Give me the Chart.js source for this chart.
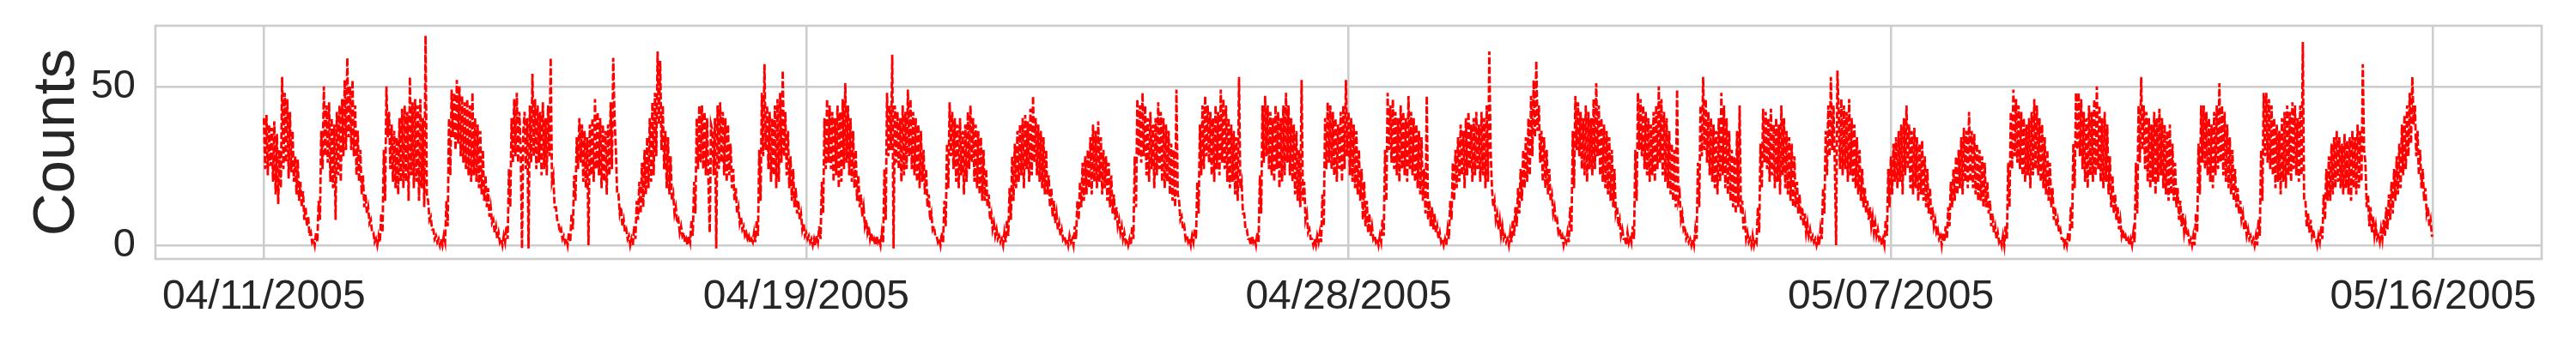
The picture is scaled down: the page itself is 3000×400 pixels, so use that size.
<!DOCTYPE html>
<html>
<head>
<meta charset="utf-8">
<title>Counts</title>
<script src="https://cdn.jsdelivr.net/npm/chart.js@4.4.1/dist/chart.umd.min.js"></script>
<style>
    body { margin: 0; background: #ffffff; }
    #wrap { width: 3000px; height: 400px; }
</style>
</head>
<body>
<div id="wrap"><canvas id="countChart" width="3000" height="400"></canvas></div>
<script>

// counts read twice per hour (top and bottom of the band), one row per day
const counts = [
    40,24, 41,22, 38,25, 37,20, 39,16, 35,13, 30,18, 53,24, 48,26, 46,21, 42,23, 36,20, 28,16, 27,14, 20,12, 17,8, 12,6, 9,3, 4,1, 2,0, 4,1, 14,8, 36,24, 50,28,
    44,26, 45,20, 40,18, 38,8, 42,22, 44,20, 46,28, 52,30, 59,34, 50,30, 52,28, 44,22, 36,20, 30,16, 22,12, 16,10, 12,7, 8,4, 4,1, 2,0, 3,1, 10,4, 30,14, 50,34,
    42,24, 38,20, 36,18, 34,16, 40,20, 43,18, 44,20, 42,14, 53,22, 45,18, 46,20, 44,14, 46,18, 40,12, 66,16, 14,8, 9,5, 5,2, 3,1, 2,0, 2,0, 3,1, 14,6, 40,22,
    49,34, 48,30, 52,32, 50,28, 47,26, 45,24, 46,22, 44,20, 48,22, 40,20, 38,18, 36,16, 30,14, 22,12, 18,9, 12,7, 8,4, 6,2, 4,1, 2,0, 3,1, 6,2, 24,12, 40,26,
    46,28, 48,26, 42,30, -1,36, 42,24, 40,-1, 44,26, 54,28, 46,24, 44,26, 42,22, 45,24, 40,22, 44,28, 59,20, 22,12, 12,8, 7,4, 5,2, 3,1, 2,0, 4,1, 10,5, 22,14,
    34,24, 40,26, 38,20, 36,18, 34,0, 38,22, 40,20, 46,24, 42,22, 40,18, 38,20, 36,16, 38,22, 45,24, 59,40, 30,16, 16,10, 12,6, 8,4, 5,2, 3,0, 2,0, 6,2, 14,8,
    20,10, 26,12, 30,16, 34,18, 40,20, 45,22, 48,28, 61,38, 58,30, 44,24, 36,18, 34,16, 28,14, 16,10, 12,7, 8,4, 6,3, 4,1, 2,0, 3,1, 8,3, 20,10, 40,24, 44,26,
    44,24, 42,22, 40,20, 4,38, 36,22, 40,-1, 44,24, 45,26, 42,22, 40,20, 38,22, 32,18, 24,14, 18,10, 12,7, 9,5, 6,3, 4,2, 3,1, 2,1, 4,1, 8,3, 30,14, 48,28,
    57,30, 44,24, 42,20, 40,22, 44,18, 46,20, 48,26, 55,28, 42,22, 36,18, 28,14, 24,12, 18,10, 14,8, 10,5, 7,3, 4,2, 3,1, 2,0, 2,0, 3,1, 6,2, 20,10, 40,24,
    46,26, 44,24, 42,20, 40,22, 44,18, 42,20, 46,24, 51,26, 44,22, 40,20, 36,18, 30,14, 22,12, 16,9, 12,6, 8,4, 6,2, 4,1, 2,0, 3,1, 2,0, 4,1, 24,8, 48,28,
    44,30, 60,-1, 44,26, 42,24, 40,20, 44,22, 42,24, 49,28, 46,24, 42,22, 40,20, 38,18, 36,20, 30,16, 24,12, 16,8, 10,5, 6,3, 3,1, 2,0, 4,1, 14,6, 32,18, 45,28,
    42,24, 40,20, 38,18, 40,22, 36,16, 38,20, 42,24, 44,26, 40,20, 38,18, 36,16, 34,14, 30,14, 24,12, 16,8, 10,5, 7,3, 5,2, 3,1, 2,0, 4,1, 8,3, 18,8, 28,14,
    32,18, 36,20, 38,22, 40,18, 41,24, 39,20, 43,22, 47,26, 40,22, 38,20, 36,18, 34,16, 30,16, 22,12, 18,9, 14,7, 10,5, 7,3, 5,2, 3,1, 2,0, 3,1, 2,0, 6,2,
    14,8, 20,12, 26,14, 28,16, 30,18, 34,16, 38,20, 36,18, 39,20, 34,16, 30,18, 28,14, 26,12, 22,10, 16,8, 12,6, 8,4, 6,2, 4,1, 2,0, 2,0, 6,2, 28,12, 46,28,
    44,26, 48,28, 44,22, 40,20, 42,24, 38,18, 40,22, 45,24, 42,20, 40,18, 38,20, 36,16, 32,14, 30,12, 49,16, 14,8, 9,5, 6,2, 3,1, 2,0, 3,1, 5,2, 20,10, 38,22,
    44,24, 47,28, 44,26, 42,22, 40,20, 44,24, 42,22, 49,26, 46,24, 44,20, 40,18, 38,20, 36,16, 34,14, 53,18, 20,10, 10,5, 5,2, 2,0, 3,1, 2,0, 4,1, 22,10, 44,26,
    47,28, 44,24, 42,22, 40,20, 44,24, 42,18, 40,20, 44,22, 48,26, 44,22, 40,20, 38,16, 36,14, 30,12, 52,14, 20,8, 10,4, 5,2, 2,0, 2,0, 3,1, 4,1, 16,6, 40,24,
    45,26, 44,24, 42,22, 40,20, 38,24, 42,20, 44,24, 52,28, 42,22, 40,20, 38,18, 36,16, 30,14, 24,8, 20,6, 14,4, 10,3, 6,2, 3,1, 2,0, 3,1, 8,3, 30,14, 48,30,
    44,26, 46,24, 42,22, 40,20, 44,24, 42,22, 40,20, 47,24, 42,22, 40,20, 38,18, 36,16, 34,14, 24,10, 47,8, 14,6, 12,5, 10,4, 6,2, 4,1, 2,0, 2,0, 5,2, 14,8,
    26,14, 30,18, 34,20, 38,22, 36,18, 40,22, 42,24, 38,20, 40,22, 42,24, 38,20, 42,22, 40,18, 44,20, 61,30, 18,12, 14,8, 10,5, 8,3, 6,2, 3,1, 2,0, 4,1, 8,3,
    12,6, 18,10, 24,14, 30,18, 34,20, 40,22, 47,28, 52,34, 58,36, 44,26, 36,20, 34,18, 30,16, 24,14, 16,10, 12,7, 8,4, 5,2, 3,0, 2,1, 4,1, 12,4, 36,18, 47,30,
    45,28, 42,24, 40,22, 44,20, 42,24, 40,22, 46,24, 51,28, 44,22, 40,20, 38,18, 36,16, 34,14, 30,12, 24,10, 12,6, 8,3, 5,2, 2,0, 4,1, 3,1, 6,2, 30,14, 48,30,
    46,28, 44,24, 42,22, 40,20, 38,22, 42,20, 44,24, 50,26, 46,22, 42,20, 40,18, 36,16, 32,14, 30,12, 49,14, 16,8, 10,5, 6,2, 3,1, 2,0, 2,0, 5,2, 26,12, 44,28,
    53,30, 46,26, 42,22, 40,20, 38,18, 36,16, 40,20, 48,22, 44,18, 40,16, 36,14, 30,12, 28,10, 36,12, 44,10, 14,5, 8,2, 4,1, 2,0, 3,0, 2,1, 12,4, 32,18, 43,26,
    42,24, 40,20, 43,22, 38,18, 40,20, 38,16, 44,22, 40,18, 36,16, 34,14, 32,12, 28,12, 20,10, 16,8, 12,6, 10,4, 7,3, 5,2, 3,1, 2,0, 2,0, 5,2, 18,10, 36,22,
    44,28, 53,30, 44,26, 0,55, 42,24, 46,22, 44,24, 42,20, 46,22, 40,20, 38,18, 34,16, 30,14, 24,12, 18,10, 14,8, 12,6, 9,4, 7,3, 5,2, 3,0, 2,0, 8,3, 24,12,
    28,16, 32,20, 34,18, 36,20, 38,16, 40,22, 44,24, 38,18, 36,16, 37,18, 34,14, 32,16, 33,14, 28,12, 24,10, 18,8, 12,6, 8,4, 5,2, 3,0, 4,1, 6,2, 12,6, 20,12,
    24,14, 28,16, 30,18, 34,16, 37,20, 36,18, 42,20, 36,18, 35,16, 32,14, 30,14, 28,12, 26,12, 20,10, 14,6, 10,4, 6,2, 4,1, 2,0, 3,0, 6,2, 26,12, 42,24, 49,28,
    46,26, 44,24, 42,22, 40,20, 38,22, 40,18, 42,22, 46,24, 44,22, 40,20, 38,18, 34,16, 30,14, 26,12, 18,8, 12,6, 8,4, 5,2, 2,0, 2,0, 4,1, 12,5, 32,18, 48,30,
    48,28, 46,24, 42,20, 40,18, 44,22, 42,20, 46,22, 50,24, 44,20, 40,18, 42,20, 38,16, 28,12, 22,10, 16,8, 12,5, 8,3, 5,2, 3,1, 2,0, 2,0, 4,1, 26,10, 44,26,
    53,30, 44,24, 42,20, 40,18, 38,20, 42,16, 40,20, 43,22, 40,18, 38,16, 36,14, 38,16, 32,14, 26,12, 18,8, 14,6, 10,4, 7,3, 4,1, 2,0, 3,0, 10,4, 32,16, 44,26,
    44,24, 42,22, 40,20, 38,18, 42,22, 44,24, 51,26, 44,22, 42,20, 38,18, 34,16, 30,14, 24,12, 18,10, 14,8, 10,5, 8,3, 5,2, 3,1, 2,0, 3,0, 8,3, 30,14, 48,28,
    48,26, 46,24, 44,22, 40,18, 38,20, 36,16, 40,20, 42,18, 44,22, 42,20, 45,24, 44,22, 40,20, 44,22, 64,14, 14,6, 10,4, 8,3, 5,2, 2,0, 3,1, 6,2, 16,8, 24,14,
    28,14, 32,16, 34,18, 36,20, 34,18, 32,16, 35,18, 33,16, 34,14, 36,18, 34,16, 38,18, 36,20, 57,30, 26,12, 16,6, 12,4, 9,3, 6,2, 3,1, 5,2, 8,3, 12,5, 16,8,
    20,10, 24,14, 28,16, 32,18, 38,22, 41,24, 44,28, 48,32, 53,38, 44,28, 36,22, 30,18, 24,14, 18,10, 12,6, 8,3, 3
];

// x ticks (hours since first sample) and their labels
const tickHours = [0, 208, 416, 624, 832];
const tickLabels = ["04/11/2005", "04/19/2005", "04/28/2005", "05/07/2005", "05/16/2005"];
const yTicks = [0, 50];

// two readings per hour
const points = counts.map((v, i) => ({ x: i / 2, y: v }));

const gridColor = "#cccccc";
const textColor = "#262626";
const fontFamily = "'Liberation Sans', Arial, sans-serif";

// grey frame round the plot area
const frame = {
    id: "frame",
    afterDraw(chart) {
        const a = chart.chartArea;
        const ctx = chart.ctx;
        ctx.save();
        ctx.strokeStyle = gridColor;
        ctx.lineWidth = 2.6;
        ctx.strokeRect(a.left, a.top, a.right - a.left, a.bottom - a.top);
        ctx.restore();
    }
};

new Chart(document.getElementById("countChart"), {
    type: "line",
    data: {
        datasets: [{
            label: "Counts",
            data: points,
            borderColor: "#ff0000",
            borderWidth: 2.8,
            borderDash: [8, 3],
            pointRadius: 0,
            tension: 0,
            fill: false
        }]
    },
    options: {
        responsive: false,
        animation: false,
        devicePixelRatio: 1,
        layout: {
            padding: { left: 0, top: 30, right: 40, bottom: 0 }
        },
        plugins: {
            legend: { display: false },
            tooltip: { enabled: false }
        },
        scales: {
            x: {
                type: "linear",
                min: -41.6,
                max: 873.6,
                afterBuildTicks: scale => {
                    scale.ticks = tickHours.map(v => ({ value: v }));
                },
                afterFit: scale => { scale.height = 98; },
                border: { display: false },
                grid: { color: gridColor, lineWidth: 2.5, drawTicks: false },
                ticks: {
                    autoSkip: false,
                    maxRotation: 0,
                    padding: 16,
                    color: textColor,
                    font: { family: fontFamily, size: 48 },
                    callback: (value, index) => tickLabels[index]
                }
            },
            y: {
                min: -4.3,
                max: 69.1,
                afterBuildTicks: scale => {
                    scale.ticks = yTicks.map(v => ({ value: v }));
                },
                afterFit: scale => { scale.width = 181; },
                border: { display: false },
                // invisible tick marks keep the labels off the frame
                grid: { color: gridColor, lineWidth: 2.5, drawTicks: true, tickLength: 23, tickColor: "rgba(0,0,0,0)" },
                ticks: {
                    padding: 0,
                    color: textColor,
                    font: { family: fontFamily, size: 47 }
                },
                title: {
                    display: true,
                    text: "Counts",
                    color: textColor,
                    font: { family: fontFamily, size: 69 },
                    padding: { top: 26, bottom: 0 }
                }
            }
        }
    },
    plugins: [frame]
});

</script>
</body>
</html>
